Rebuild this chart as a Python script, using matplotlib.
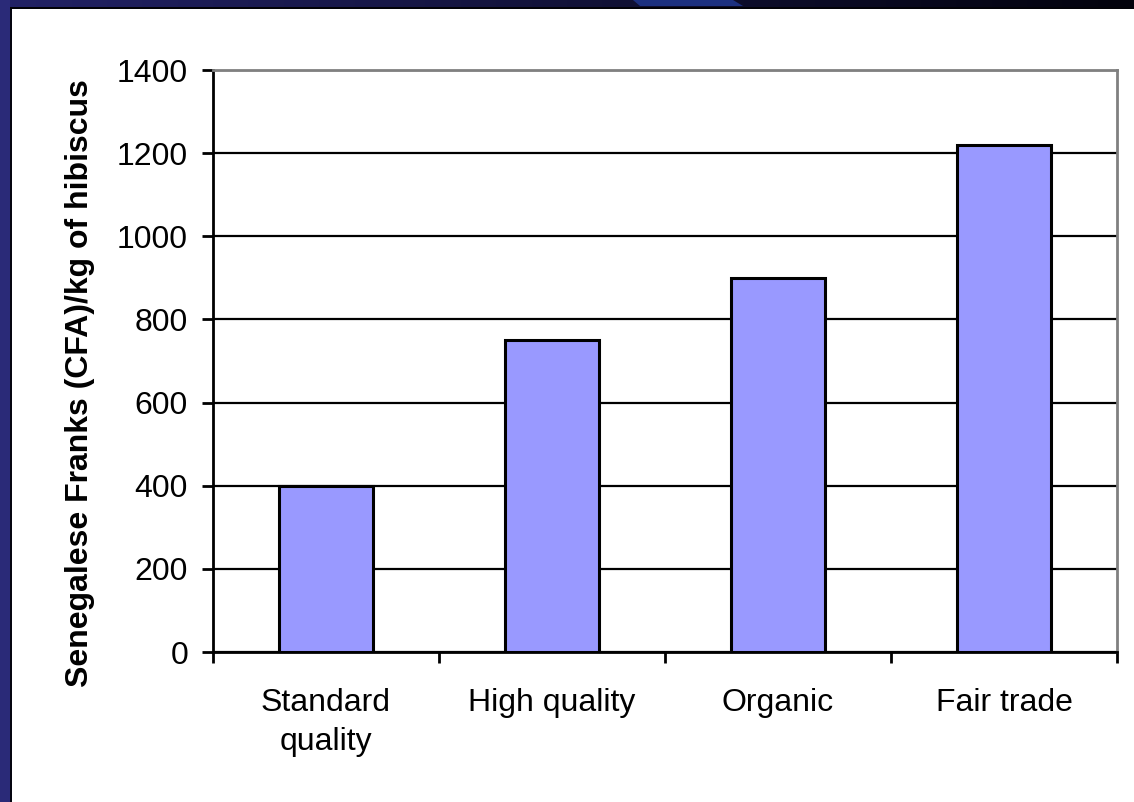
import numpy as np
import matplotlib
matplotlib.use("Agg")
import matplotlib.pyplot as plt
from matplotlib.patches import Rectangle, Polygon

categories = ["Standard\nquality", "High quality", "Organic", "Fair trade"]
prices = [400, 750, 900, 1220]
y_ticks = [0, 200, 400, 600, 800, 1000, 1200, 1400]
y_label = "Senegalese Franks (CFA)/kg of hibiscus"

W, H = 1134, 802
plt.rcParams["font.family"] = ["Liberation Sans", "DejaVu Sans"]

fig = plt.figure(figsize=(W / 100, H / 100), dpi=100)
fig.patch.set_facecolor("white")


def px_box(x0, y0, x1, y1):
    """Convert a pixel box (top-left origin) to figure fractions."""
    return [x0 / W, 1 - y1 / H, (x1 - x0) / W, (y1 - y0) / H]


# slide frame: navy strip on the left, dark gradient bar along the top
fig.add_artist(Rectangle((0, 0), 12 / W, 1, transform=fig.transFigure,
                         facecolor="#050510", edgecolor="none", zorder=0))
fig.add_artist(Rectangle((0, 0), 9.5 / W, 1, transform=fig.transFigure,
                         facecolor="#2a2a78", edgecolor="none", zorder=1))

top = fig.add_axes(px_box(0, 0, W, 9), zorder=2)
grad = np.linspace(0, 1, 512)
c0 = np.array([0x22, 0x22, 0x66]) / 255
c1 = np.array([0x02, 0x02, 0x0c]) / 255
img = (c0[None, :] * (1 - grad[:, None]) + c1[None, :] * grad[:, None])[None, :, :]
top.imshow(img, aspect="auto", extent=(0, W, 9, 0))
top.add_patch(Polygon([(633, 0), (733, 0), (743, 6), (640, 6)],
                      closed=True, facecolor="#1c3080", edgecolor="none"))
top.add_patch(Rectangle((0, 6.5), W, 2.5, facecolor="#020208", edgecolor="none"))
top.add_patch(Rectangle((0, 0), 9.5, 9, facecolor="#2a2a78", edgecolor="none"))
top.set_xlim(0, W)
top.set_ylim(9, 0)
top.axis("off")

# chart area
ax = fig.add_axes(px_box(213, 70, 1117, 652))
ax.set_facecolor("white")
x = np.arange(len(categories))
ax.bar(x, prices, width=0.42, color="#9999ff", edgecolor="black",
       linewidth=2.2, zorder=3)

ax.set_xlim(-0.5, len(categories) - 0.5)
ax.set_ylim(0, 1400)
ax.set_yticks(y_ticks)
ax.set_yticklabels([str(v) for v in y_ticks])
ax.yaxis.grid(True, color="black", linewidth=1.6, zorder=0)
ax.set_axisbelow(True)

# boundary ticks between categories, labels centred on each bar
ax.set_xticks(np.arange(len(categories) + 1) - 0.5)
ax.set_xticklabels([])
ax.set_xticks(x, minor=True)
ax.set_xticklabels(categories, minor=True, fontsize=23, linespacing=1.38)
ax.tick_params(axis="x", which="major", direction="out", length=8, width=2)
ax.tick_params(axis="x", which="minor", length=0, pad=26)
ax.tick_params(axis="y", direction="out", length=8, width=2, labelsize=23, pad=10)

for side in ("left", "bottom"):
    ax.spines[side].set_color("black")
    ax.spines[side].set_linewidth(2)
for side in ("top", "right"):
    ax.spines[side].set_color("#808080")
    ax.spines[side].set_linewidth(2)

fig.text(80 / W, 1 - 383 / H, y_label, rotation=90, ha="center", va="center",
         fontsize=23, fontweight="bold")

fig.savefig("out.png", dpi=100, facecolor="white")
